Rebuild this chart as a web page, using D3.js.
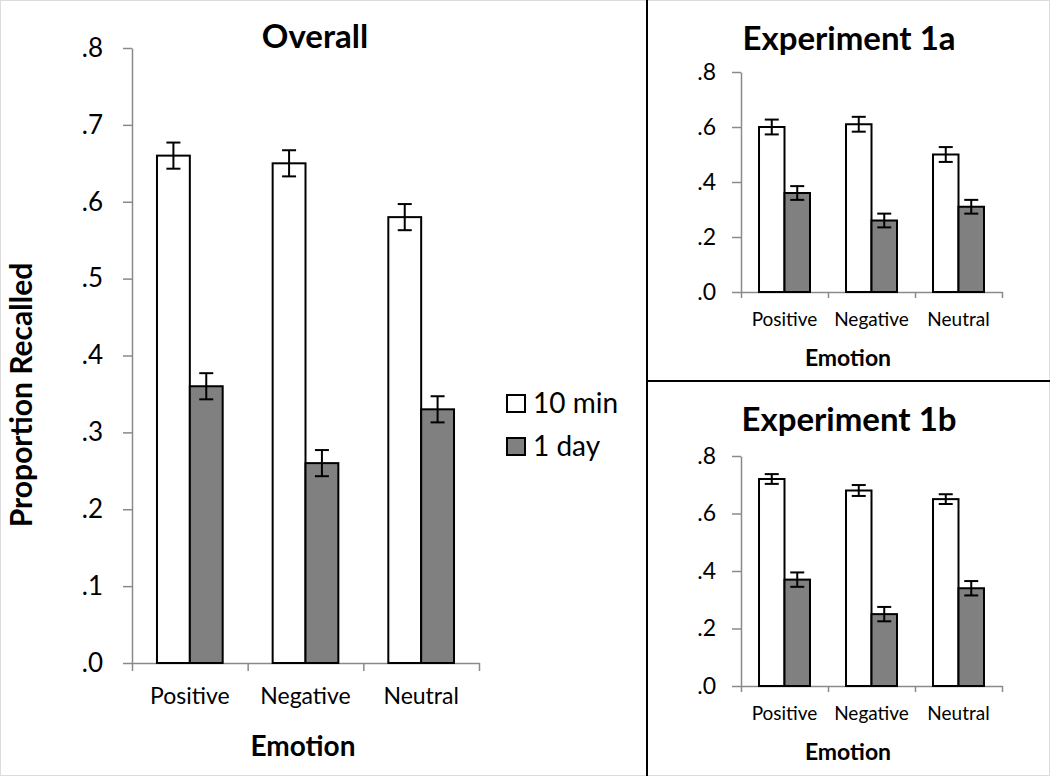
<!DOCTYPE html>
<html>
<head>
<meta charset="utf-8">
<script src="https://cdn.jsdelivr.net/npm/d3@7"></script>
<style>
  html, body { margin: 0; padding: 0; background: #fff; }
  svg { display: block; }
  svg text { font-family: Lato, "Open Sans", sans-serif; }
</style>
</head>
<body>
<svg id="chart" width="1050" height="776"></svg>
<script>
// ---------------- data ----------------
const categories = ["Positive", "Negative", "Neutral"];
const seriesNames = ["10 min", "1 day"];

const overall10min = [0.66, 0.65, 0.58];
const overall1day  = [0.36, 0.26, 0.33];
const overallErr10min = [0.017, 0.017, 0.017];
const overallErr1day  = [0.017, 0.017, 0.017];

const exp1a10min = [0.60, 0.61, 0.50];
const exp1a1day  = [0.36, 0.26, 0.31];
const exp1aErr10min = [0.027, 0.027, 0.027];
const exp1aErr1day  = [0.025, 0.025, 0.025];

const exp1b10min = [0.72, 0.68, 0.65];
const exp1b1day  = [0.37, 0.25, 0.34];
const exp1bErr10min = [0.017, 0.019, 0.017];
const exp1bErr1day  = [0.025, 0.025, 0.025];

const mainTickValues = [0, 0.1, 0.2, 0.3, 0.4, 0.5, 0.6, 0.7, 0.8];
const mainTickLabels = [".0", ".1", ".2", ".3", ".4", ".5", ".6", ".7", ".8"];
const smallTickValues = [0, 0.2, 0.4, 0.6, 0.8];
const smallTickLabels = [".0", ".2", ".4", ".6", ".8"];

// ---------------- drawing ----------------
const svg = d3.select("#chart");
const FONT = "Lato, 'Open Sans', sans-serif";
const AXIS_COLOR = "#8a8a8a";
const FILLS = ["#ffffff", "#808080"];

function drawPanel(cfg) {
  const g = svg.append("g");
  const y = d3.scaleLinear().domain([0, 0.8]).range([cfg.y0, cfg.y1]);
  const xBand = d3.scaleBand().domain(categories).range([cfg.x0, cfg.x1]).padding(0);
  const xEdges = d3.scaleLinear().domain([0, categories.length]).range([cfg.x0, cfg.x1]);
  const inner = d3.scaleBand().domain(seriesNames)
    .range([xBand.bandwidth() * cfg.innerStart, xBand.bandwidth() * (1 - cfg.innerStart)])
    .padding(0);

  // y axis
  const yAxis = g.append("g")
    .attr("transform", `translate(${cfg.x0},0)`)
    .call(d3.axisLeft(y).tickValues(cfg.tickValues)
      .tickFormat((d, i) => cfg.tickLabels[i])
      .tickSize(cfg.tickLen).tickSizeOuter(0).tickPadding(cfg.tickPad));
  yAxis.attr("font-family", FONT);
  yAxis.select(".domain").attr("stroke", AXIS_COLOR).attr("stroke-width", 1.5);
  yAxis.selectAll(".tick line").attr("stroke", AXIS_COLOR).attr("stroke-width", 1.5);
  yAxis.selectAll("text").attr("font-size", cfg.tickFont).attr("fill", "#000");

  // x axis edges (ticks at category boundaries)
  const xAxis = g.append("g")
    .attr("transform", `translate(0,${cfg.y0})`)
    .call(d3.axisBottom(xEdges).tickValues(d3.range(categories.length + 1))
      .tickFormat("").tickSize(cfg.xTickLen).tickSizeOuter(0));
  xAxis.select(".domain").attr("stroke", AXIS_COLOR).attr("stroke-width", 1.5);
  xAxis.selectAll(".tick line").attr("stroke", AXIS_COLOR).attr("stroke-width", 1.5);

  // category labels
  const xLab = g.append("g")
    .attr("transform", `translate(0,${cfg.y0})`)
    .call(d3.axisBottom(xBand).tickSize(0).tickPadding(cfg.catPad));
  xLab.attr("font-family", FONT);
  xLab.select(".domain").remove();
  xLab.selectAll("text").attr("font-size", cfg.catFont).attr("fill", "#000");

  // bars
  const rows = [];
  categories.forEach((c, i) => {
    seriesNames.forEach((s, j) => {
      rows.push({ c, s, j, v: cfg.values[j][i], e: cfg.errors[j][i] });
    });
  });
  const bw = inner.bandwidth();
  g.selectAll("rect.bar").data(rows).join("rect")
    .attr("class", "bar")
    .attr("x", d => xBand(d.c) + inner(d.s))
    .attr("width", bw)
    .attr("y", d => y(d.v))
    .attr("height", d => y(0) - y(d.v))
    .attr("fill", d => FILLS[d.j])
    .attr("stroke", "#000")
    .attr("stroke-width", 2);

  // error bars
  const eg = g.selectAll("g.err").data(rows).join("g").attr("class", "err")
    .attr("stroke", "#000").attr("stroke-width", 2);
  eg.append("line")
    .attr("x1", d => xBand(d.c) + inner(d.s) + bw / 2)
    .attr("x2", d => xBand(d.c) + inner(d.s) + bw / 2)
    .attr("y1", d => y(d.v + d.e)).attr("y2", d => y(d.v - d.e));
  [1, -1].forEach(sign => {
    eg.append("line")
      .attr("x1", d => xBand(d.c) + inner(d.s) + bw / 2 - cfg.cap / 2)
      .attr("x2", d => xBand(d.c) + inner(d.s) + bw / 2 + cfg.cap / 2)
      .attr("y1", d => y(d.v + sign * d.e)).attr("y2", d => y(d.v + sign * d.e));
  });

  // title
  g.append("text").attr("x", cfg.titleX).attr("y", cfg.titleY)
    .attr("text-anchor", "middle").attr("font-weight", "bold")
    .attr("font-size", cfg.titleFont).text(cfg.title);

  // x title
  g.append("text").attr("x", cfg.xTitleX).attr("y", cfg.xTitleY)
    .attr("text-anchor", "middle").attr("font-weight", "bold")
    .attr("font-size", cfg.xTitleFont).text("Emotion");
}

drawPanel({
  x0: 132, x1: 479, y0: 663, y1: 48, innerStart: 0.216,
  tickValues: mainTickValues, tickLabels: mainTickLabels,
  tickLen: 9, tickPad: 20, tickFont: 26, xTickLen: 8,
  catPad: 25, catFont: 23, cap: 14,
  values: [overall10min, overall1day], errors: [overallErr10min, overallErr1day],
  title: "Overall", titleX: 315, titleY: 48, titleFont: 33,
  xTitleX: 303, xTitleY: 756, xTitleFont: 28
});

drawPanel({
  x0: 741, x1: 1002, y0: 292, y1: 72, innerStart: 0.207,
  tickValues: smallTickValues, tickLabels: smallTickLabels,
  tickLen: 9, tickPad: 16, tickFont: 23, xTickLen: 6,
  catPad: 21, catFont: 19, cap: 14,
  values: [exp1a10min, exp1a1day], errors: [exp1aErr10min, exp1aErr1day],
  title: "Experiment 1a", titleX: 849, titleY: 50, titleFont: 33,
  xTitleX: 848, xTitleY: 366, xTitleFont: 23
});

drawPanel({
  x0: 741, x1: 1002, y0: 686, y1: 456, innerStart: 0.207,
  tickValues: smallTickValues, tickLabels: smallTickLabels,
  tickLen: 9, tickPad: 16, tickFont: 23, xTickLen: 6,
  catPad: 21, catFont: 19, cap: 14,
  values: [exp1b10min, exp1b1day], errors: [exp1bErr10min, exp1bErr1day],
  title: "Experiment 1b", titleX: 849, titleY: 431, titleFont: 33,
  xTitleX: 848, xTitleY: 760, xTitleFont: 23
});

// y axis title (main)
svg.append("text")
  .attr("transform", "translate(32,395) rotate(-90)")
  .attr("text-anchor", "middle").attr("font-weight", "bold")
  .attr("font-size", 30).text("Proportion Recalled");

// legend
const legend = svg.append("g");
const legendY = [395, 438];
seriesNames.forEach((s, j) => {
  legend.append("rect").attr("x", 507).attr("y", legendY[j])
    .attr("width", 18).attr("height", 17)
    .attr("fill", FILLS[j]).attr("stroke", "#000").attr("stroke-width", 2);
  legend.append("text").attr("x", 533).attr("y", legendY[j] + 18)
    .attr("font-size", 28).text(s);
});

// panel dividers and frame
svg.append("rect").attr("x", 0.5).attr("y", 0.5).attr("width", 1049).attr("height", 775)
  .attr("fill", "none").attr("stroke", "#dcdcdc").attr("stroke-width", 1);
svg.append("line").attr("x1", 647).attr("x2", 647).attr("y1", 0).attr("y2", 776)
  .attr("stroke", "#000").attr("stroke-width", 2);
svg.append("line").attr("x1", 647).attr("x2", 1050).attr("y1", 381).attr("y2", 381)
  .attr("stroke", "#000").attr("stroke-width", 2);
</script>
</body>
</html>
